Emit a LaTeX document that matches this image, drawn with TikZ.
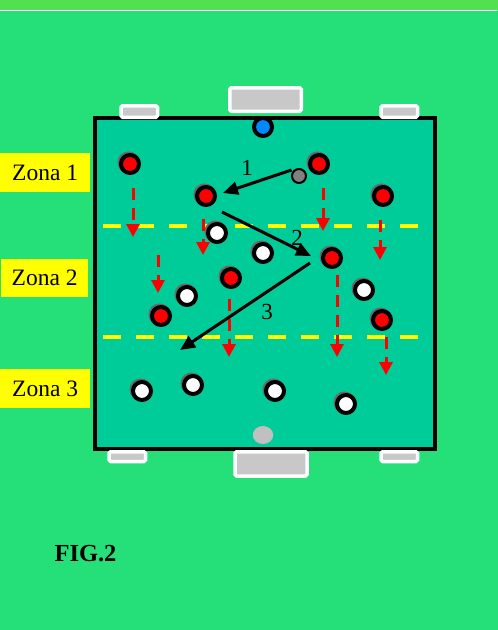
\documentclass[tikz,border=0pt]{standalone}
\usepackage{fontspec}
\setmainfont{Liberation Serif}
\usetikzlibrary{arrows.meta,shapes.geometric}

\definecolor{bggreen}{RGB}{37,224,121}
\definecolor{stripgreen}{RGB}{80,224,80}
\definecolor{pitch}{RGB}{0,204,153}
\definecolor{goalgray}{RGB}{200,200,200}
\definecolor{ballgray}{RGB}{128,128,128}
\definecolor{lightball}{RGB}{192,192,192}
\definecolor{keeperblue}{RGB}{0,136,255}
\definecolor{shade}{RGB}{105,105,105}
\definecolor{zoneyellow}{RGB}{255,255,0}
\definecolor{runred}{RGB}{255,0,0}

\tikzset{
  player/.style={circle, inner sep=0pt, minimum size=18pt, draw=black, line width=4pt,
    preaction={draw=shade, line width=4pt, transform canvas={shift={(-1.5pt,1.5pt)}}}},
  redp/.style={player, fill=runred},
  whitep/.style={player, fill=white},
  goalbox/.style={draw=white, fill=goalgray, line width=3.5pt, rounded corners=1.5pt},
  zonelabel/.style={fill=zoneyellow, inner sep=0pt, minimum width=90pt, minimum height=39pt,
    font=\fontsize{23.5}{26}\selectfont, anchor=north west},
  numlabel/.style={font=\fontsize{23}{26}\selectfont, inner sep=0pt},
  zoneline/.style={draw=zoneyellow, line width=4pt, dash pattern=on 18pt off 15pt},
  run/.style={draw=runred, line width=3pt, dash pattern=on 12pt off 8pt,
    -{Triangle[length=13pt,width=13pt]}},
  pass/.style={draw=black, line width=3pt, -{Triangle[length=15pt,width=13pt]}}
}

\begin{document}
\begin{tikzpicture}[x=1pt,y=-1pt]
  % page and background
  \useasboundingbox (0,0) rectangle (498,630);
  \fill[bggreen] (0,0) rectangle (498,630);
  \fill[stripgreen] (0,0) rectangle (498,10);
  \draw[white, line width=1pt] (0,10.5) -- (497,10.5);

  % pitch
  \draw[line width=4pt, fill=pitch] (95,118) rectangle (435,449);

  % zone boundaries
  \draw[zoneline] (103,226) -- (424,226);
  \draw[zoneline] (103,337) -- (424,337);

  % goals
  \draw[goalbox] (229.75,87.75) rectangle (301.25,111.25);
  \draw[goalbox] (121,105.75) rectangle (157.5,117.25);
  \draw[goalbox] (381,105.75) rectangle (417.5,117.25);
  \draw[goalbox] (109,451.75) rectangle (145.5,461.5);
  \draw[goalbox] (235,451.75) rectangle (307,476);
  \draw[goalbox] (381,451.75) rectangle (417.5,461.5);

  % keeper and balls
  \node[circle, inner sep=0pt, minimum size=18pt, draw=black, line width=4pt, fill=keeperblue] (keeper) at (263,127) {};
  \node[circle, inner sep=0pt, minimum size=14pt, draw=black, line width=2pt, fill=ballgray] (ball) at (299,176) {};
  \node[ellipse, inner sep=0pt, minimum width=20.5pt, minimum height=18pt, fill=lightball] (spare) at (263,435) {};

  % players
  \node[redp] (r1) at (130,164) {};
  \node[redp] (r2) at (206,196) {};
  \node[redp] (r3) at (319,164) {};
  \node[redp] (r4) at (383,196) {};
  \node[redp] (r5) at (231,278) {};
  \node[redp] (r6) at (332,258) {};
  \node[redp] (r7) at (161,316) {};
  \node[redp] (r8) at (382,320) {};
  \node[whitep] (w1) at (217,233) {};
  \node[whitep] (w2) at (263,253) {};
  \node[whitep] (w3) at (187,296) {};
  \node[whitep] (w4) at (364,290) {};
  \node[whitep] (w5) at (142,391) {};
  \node[whitep] (w6) at (193,385) {};
  \node[whitep] (w7) at (275,391) {};
  \node[whitep] (w8) at (346,404) {};

  % runs without the ball
  \draw[run] ([shift={(3,24)}]r1.center) -- ++(0,49);
  \draw[run] ([shift={(-3,23)}]r2.center) -- ++(0,36);
  \draw[run] ([shift={(4,24)}]r3.center) -- ++(0,43);
  \draw[run] ([shift={(-3,24)}]r4.center) -- ++(0,40);
  \draw[run] ([shift={(-3,-61)}]r7.center) -- ++(0,38);
  \draw[run] ([shift={(-2,21)}]r5.center) -- ++(0,58);
  \draw[run] ([shift={(5,17)}]r6.center) -- ++(0,82);
  \draw[run] ([shift={(4,17)}]r8.center) -- ++(0,38);

  % passes
  \coordinate (target) at (180,350);
  \draw[pass] ([shift={(-7.5,-6)}]ball.center) -- ([shift={(17,-3)}]r2.center);
  \draw[pass] ([shift={(16,16)}]r2.center) -- ([shift={(-21,-2)}]r6.center);
  \draw[pass] ([shift={(-22,5)}]r6.center) -- (target);

  \node[numlabel] (n1) at (247,168) {1};
  \node[numlabel] (n2) at (297,238) {2};
  \node[numlabel] (n3) at (267,312) {3};

  % zone labels
  \node[zonelabel] (z1) at (0,153) {Zona 1};
  \node[zonelabel, minimum width=87pt, minimum height=38pt] (z2) at (1,259) {Zona 2};
  \node[zonelabel] (z3) at (0,369) {Zona 3};

  \node[font=\bfseries\fontsize{24.5}{28}\selectfont, inner sep=0pt] (fig) at (85.5,553.5) {FIG.2};
\end{tikzpicture}
\end{document}
